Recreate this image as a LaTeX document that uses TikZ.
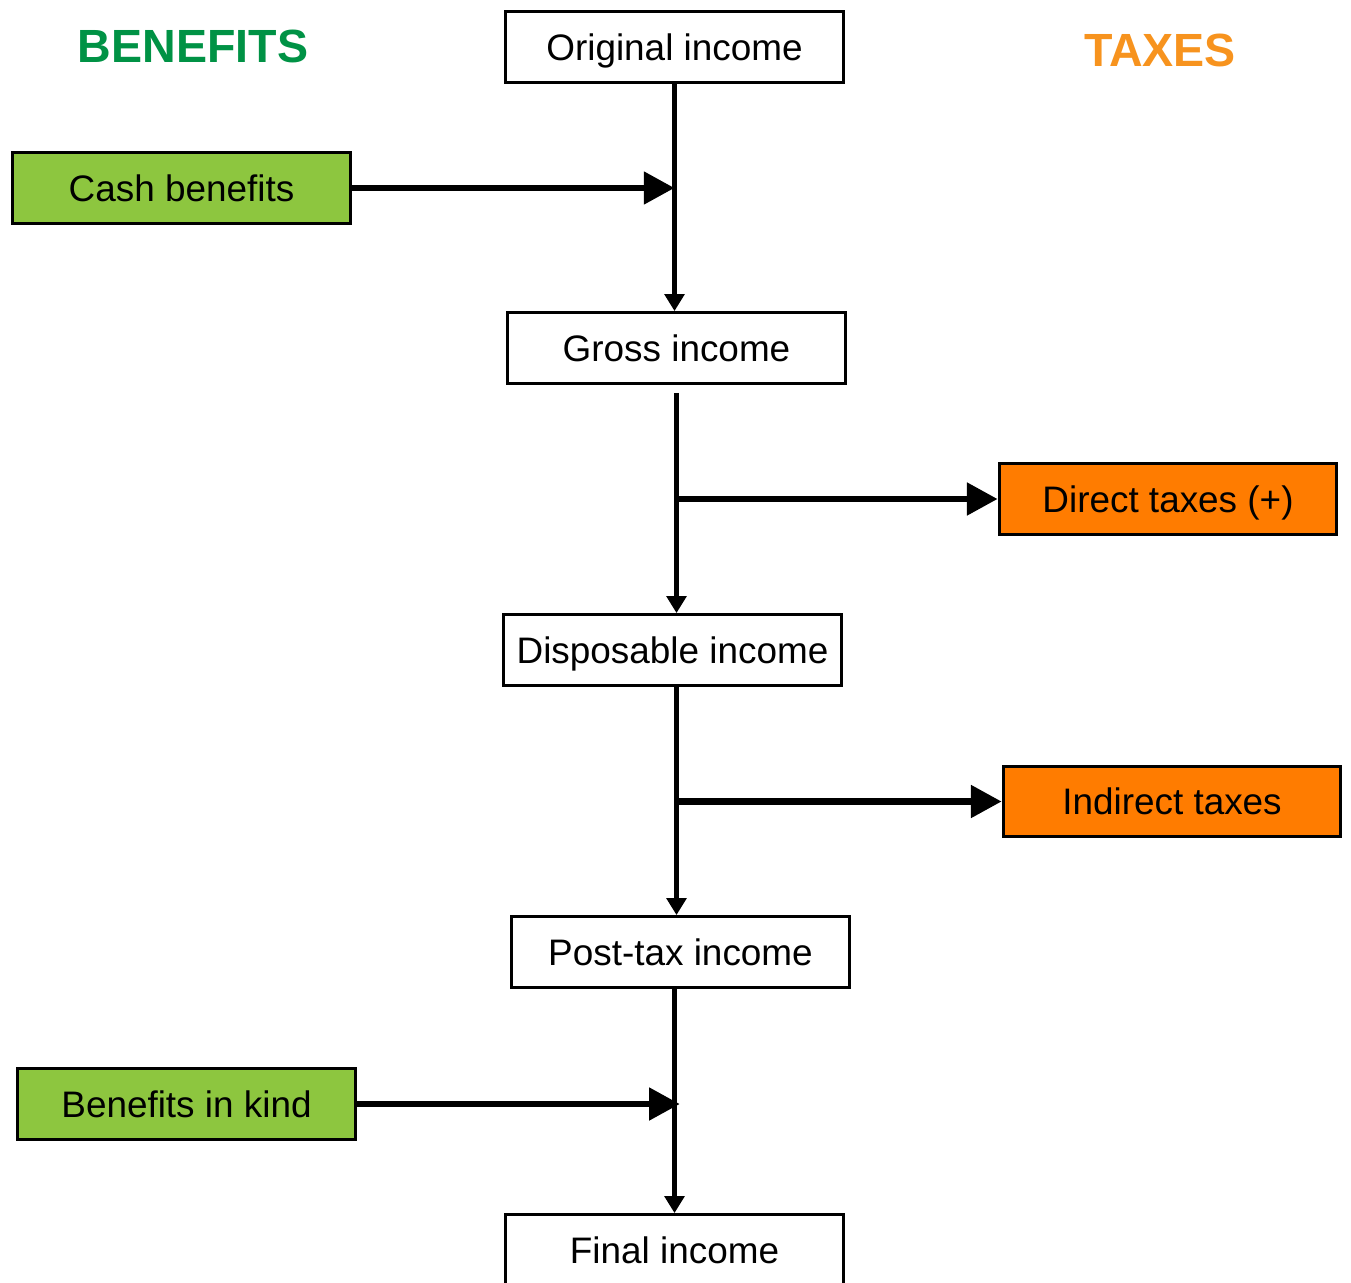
\documentclass[tikz,border=0pt]{standalone}
\usepackage{fontspec}
\setmainfont{Liberation Sans}
\usetikzlibrary{arrows.meta}
\definecolor{benefitgreen}{RGB}{141,198,63}
\definecolor{taxorange}{RGB}{255,124,0}
\definecolor{headgreen}{RGB}{0,146,69}
\definecolor{headorange}{RGB}{247,147,30}
\begin{document}
\begin{tikzpicture}[x=0.02cm,y=-0.02cm,
      font=\fontsize{21}{25}\selectfont,
      every node/.style={draw,line width=1.9pt,minimum width=6.75cm,minimum height=1.41cm,inner sep=0pt,text depth=0pt},
      income/.style={fill=white},
      benefit/.style={fill=benefitgreen},
      tax/.style={fill=taxorange},
      heading/.style={draw=none,minimum width=0pt,minimum height=0pt,font=\fontsize{26.5}{30}\selectfont\bfseries},
      spine/.style={line width=2.8pt,-{Triangle[width=11pt,length=9.6pt]}},
      branch/.style={line width=3.6pt,-{Triangle[width=18pt,length=17.5pt]}}]
    \useasboundingbox (0,0) rectangle (1351,1283);
    % headings
    \node[heading,text=headgreen] (benhead) at (193,46) {BENEFITS};
    \node[heading,text=headorange] (taxhead) at (1160,50) {TAXES};
    % income stages
    \node[income] (orig) at (674.5,47) {Original income};
    \node[income] (gross) at (676.5,348) {Gross income};
    \node[income] (disp) at (672.5,650) {Disposable income};
    \node[income] (post) at (680.5,952) {Post-tax income};
    \node[income] (final) at (674.5,1250) {Final income};
    % benefits and taxes
    \node[benefit] (cash) at (181.5,188) {Cash benefits};
    \node[benefit] (kind) at (186.5,1104) {Benefits in kind};
    \node[tax] (direct) at (1168,499) {Direct taxes (+)};
    \node[tax] (indirect) at (1172,801.5) {Indirect taxes};
    % connectors
    \coordinate (taxjoin1) at (gross.south |- direct.west);
    \coordinate (taxjoin2) at (gross.south |- indirect.west);
    \draw[spine] (orig.south) -- (orig.south |- gross.north);
    \draw[branch] (cash.east) -- (cash.east -| orig.south);
    \draw[spine] ([yshift=-4.5pt]gross.south) -- (gross.south |- disp.north);
    \draw[branch] (taxjoin1) -- (direct.west);
    \draw[spine] (disp.south -| gross.south) -- (gross.south |- post.north);
    \draw[branch] (taxjoin2) -- (indirect.west);
    \draw[spine] (post.south -| final.north) -- (final.north);
    \draw[branch] (kind.east) -- ([xshift=3pt]kind.east -| final.north);
  \end{tikzpicture}
\end{document}
